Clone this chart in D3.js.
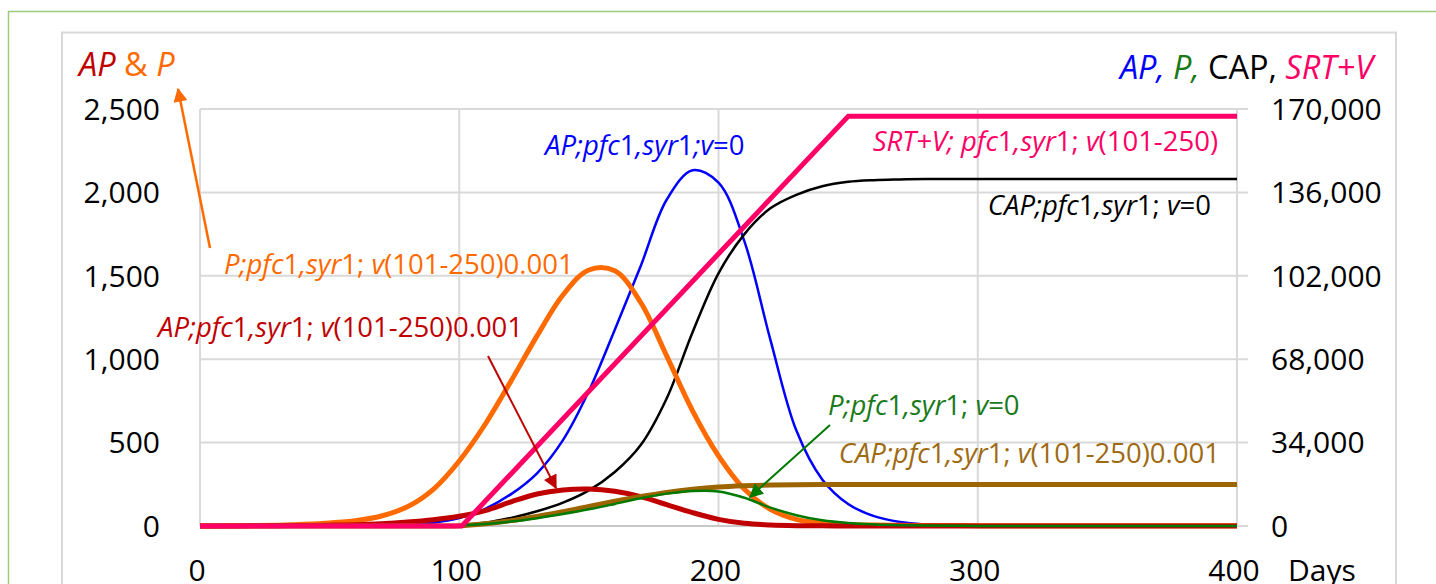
<!DOCTYPE html>
<html>
<head>
<meta charset="utf-8">
<script src="https://cdn.jsdelivr.net/npm/d3@7"></script>
<style>
  html, body { margin: 0; padding: 0; background: #fff; }
  svg { display: block; font-family: "Open Sans", "Noto Sans", sans-serif; }
</style>
</head>
<body>
<svg id="chart" width="1436" height="584"></svg>
<script>
// Simulation days (x axis)
const days = [0, 10, 20, 30, 40, 50, 60, 70, 80, 90,
              100, 110, 120, 130, 140, 150, 160, 170, 180, 190,
              200, 210, 220, 230, 240, 250, 260, 270, 280, 290,
              300, 310, 320, 330, 340, 350, 360, 370, 380, 390, 400];

// Left axis series (AP & P with vaccination 101-250, rate 0.001)
const pVacc = [0, 1, 2, 5, 10, 18, 32, 60, 115, 220,
               390, 610, 870, 1140, 1385, 1535, 1530, 1340, 1020, 690,
               420, 220, 100, 40, 18, 9, 6, 4, 3, 3,
               2, 2, 2, 2, 2, 2, 2, 2, 2, 2, 2];
const apVacc = [0, 0, 1, 2, 3, 5, 8, 14, 24, 38,
                58, 92, 145, 192, 216, 222, 208, 176, 128, 80,
                40, 16, 6, 2, 1, 0, 0, 0, 0, 0,
                0, 0, 0, 0, 0, 0, 0, 0, 0, 0, 0];

// Right axis series (no vaccination, plus cumulative with vaccination)
const apNoVacc = [0, 0, 0, 0, 10, 30, 80, 200, 500, 1300,
                  3200, 7000, 13000, 21500, 35000, 55000, 80000, 106000, 133000, 145000,
                  140000, 116000, 76000, 39000, 19000, 9000, 4000, 1600, 600, 200,
                  60, 20, 0, 0, 0, 0, 0, 0, 0, 0, 0];
const capNoVacc = [0, 0, 0, 0, 0, 0, 0, 0, 0, 100,
                   400, 1300, 3300, 6000, 9500, 14500, 22000, 33000, 52000, 79000,
                   103000, 119000, 129500, 135000, 138500, 140300, 141000, 141300, 141500, 141500,
                   141500, 141500, 141500, 141500, 141500, 141500, 141500, 141500, 141500, 141500, 141500];
const pNoVacc = [0, 0, 0, 0, 0, 0, 0, 0, 20, 80,
                 250, 800, 1800, 3200, 4900, 6800, 9000, 11300, 13200, 14300,
                 14100, 11500, 7500, 4400, 2300, 1200, 650, 350, 180, 100,
                 50, 30, 20, 10, 10, 10, 10, 10, 10, 10, 10];
const capVacc = [0, 0, 0, 0, 0, 0, 0, 0, 0, 0,
                 50, 900, 2200, 3900, 5800, 8000, 10100, 12000, 13700, 15000,
                 15900, 16400, 16700, 16850, 16900, 16900, 16900, 16900, 16900, 16900,
                 16900, 16900, 16900, 16900, 16900, 16900, 16900, 16900, 16900, 16900, 16900];

// SRT+V: flat, linear rise during vaccination window, flat again
const srtDays = [0, 101, 250, 400];
const srtValues = [0, 0, 167000, 167000];

// Axis ticks
const xTicks = [0, 100, 200, 300, 400];
const leftTicks = [0, 500, 1000, 1500, 2000, 2500];
const rightTicks = [0, 34000, 68000, 102000, 136000, 170000];

// Labels: "_" toggles italic
const labels = [
  { text: "_AP;pfc_1_,syr_1_;v_=0", color: "#0000FF", x: 545, y: 155, anchor: "start" },
  { text: "_SRT+V; pfc_1_,syr_1; _v_(101-250)", color: "#FF0066", x: 1218, y: 151, anchor: "end" },
  { text: "_CAP;pfc_1_,syr_1; _v_=0", color: "#000000", x: 1211, y: 215, anchor: "end" },
  { text: "_P;pfc_1_,syr_1; _v_(101-250)0.001", color: "#FF6A00", x: 224, y: 274, anchor: "start" },
  { text: "_AP;pfc_1_,syr_1; _v_(101-250)0.001", color: "#C00000", x: 158, y: 337, anchor: "start" },
  { text: "_P;pfc_1_,syr_1; _v_=0", color: "#1A7A1A", x: 828, y: 415, anchor: "start" },
  { text: "_CAP;pfc_1_,syr_1; _v_(101-250)0.001", color: "#9E6A12", x: 1220, y: 463, anchor: "end" }
];

const svg = d3.select("#chart");

// Frames
svg.append("rect").attr("x", 8.5).attr("y", 11.5).attr("width", 1460).attr("height", 600)
  .attr("fill", "none").attr("stroke", "#9CCB7E").attr("stroke-width", 1.5);
svg.append("rect").attr("x", 62).attr("y", 32.5).attr("width", 1334).attr("height", 600)
  .attr("fill", "#fff").attr("stroke", "#D9D9D9").attr("stroke-width", 2);

const x = d3.scaleLinear().domain([0, 400]).range([200, 1237]);
const yL = d3.scaleLinear().domain([0, 2500]).range([526, 109]);
const yR = d3.scaleLinear().domain([0, 170000]).range([526, 109]);

// Grid
const grid = svg.append("g").attr("stroke", "#D9D9D9").attr("stroke-width", 2);
leftTicks.forEach(v => grid.append("line")
  .attr("x1", x(0)).attr("x2", x(400) + 11).attr("y1", yL(v)).attr("y2", yL(v)));
xTicks.forEach(d => grid.append("line")
  .attr("x1", x(d)).attr("x2", x(d)).attr("y1", yL(2500)).attr("y2", yL(0)));
grid.append("line").attr("x1", x(0)).attr("x2", x(400)).attr("y1", yL(0)).attr("y2", yL(0))
  .attr("stroke", "#C8C8C8");

// Axes labels
const fmt = d3.format(",");
const axisFont = 30;
svg.append("g").selectAll("text").data(leftTicks).join("text")
  .attr("x", 160).attr("y", d => yL(d)).attr("dy", "0.36em")
  .attr("text-anchor", "end").attr("font-size", axisFont).attr("fill", "#000")
  .text(d => fmt(d));
svg.append("g").selectAll("text").data(rightTicks).join("text")
  .attr("x", 1271).attr("y", d => yR(d)).attr("dy", "0.36em")
  .attr("text-anchor", "start").attr("font-size", axisFont).attr("fill", "#000")
  .text(d => fmt(d));
svg.append("g").selectAll("text").data(xTicks).join("text")
  .attr("x", d => x(d) - 3).attr("y", 581)
  .attr("text-anchor", "middle").attr("font-size", axisFont).attr("fill", "#000")
  .text(d => d);
svg.append("text").attr("x", 1288).attr("y", 581).attr("font-size", axisFont)
  .attr("fill", "#000").text("Days");

// Axis titles
function richText(sel, parts) {
  parts.forEach(p => sel.append("tspan").attr("fill", p[1])
    .attr("font-style", p[2] ? "italic" : "normal").text(p[0]));
}
const titleFont = 32.5;
const tL = svg.append("text").attr("x", 79).attr("y", 76).attr("font-size", titleFont);
richText(tL, [["AP", "#C00000", true], [" & ", "#FF6A00", false], ["P", "#FF6A00", true]]);
const tR = svg.append("text").attr("x", 1373).attr("y", 79).attr("font-size", titleFont)
  .attr("text-anchor", "end");
richText(tR, [["AP,", "#0000FF", true], [" P,", "#1A7A1A", true], [" CAP,", "#000", false],
              [" SRT+V", "#FF0066", true]]);

// Lines
const curve = d3.curveCatmullRom.alpha(0.5);
const lineL = d3.line().x((d, i) => x(days[i])).y(d => yL(Math.max(0, d))).curve(curve);
const lineR = d3.line().x((d, i) => x(days[i])).y(d => yR(Math.max(0, d))).curve(curve);
const plot = svg.append("g").attr("fill", "none").attr("stroke-linejoin", "round");

plot.append("path").attr("d", lineR(apNoVacc)).attr("stroke", "#0000FF").attr("stroke-width", 2.5);
plot.append("path").attr("d", lineR(capNoVacc)).attr("stroke", "#000").attr("stroke-width", 2.5);
plot.append("path").attr("d", lineL(pVacc)).attr("stroke", "#FF6A00").attr("stroke-width", 5);
plot.append("path").attr("d", lineL(apVacc)).attr("stroke", "#C00000").attr("stroke-width", 5);
plot.append("path").attr("d", lineR(capVacc)).attr("stroke", "#9C6500").attr("stroke-width", 5);
plot.append("path").attr("d", lineR(pNoVacc)).attr("stroke", "#007A00").attr("stroke-width", 2.5);
const srtLine = d3.line().x((d, i) => x(srtDays[i])).y(d => yR(d));
plot.append("path").attr("d", srtLine(srtValues)).attr("stroke", "#FF0066").attr("stroke-width", 5);

// Annotation labels
labels.forEach(l => {
  const t = svg.append("text").attr("x", l.x).attr("y", l.y).attr("font-size", 27.5)
    .attr("fill", l.color).attr("text-anchor", l.anchor);
  let italic = false;
  l.text.split("_").forEach((s, i) => {
    if (i > 0) italic = !italic;
    if (s.length) t.append("tspan").attr("font-style", italic ? "italic" : "normal").text(s);
  });
});

// Arrows
const defs = svg.append("defs");
function arrow(id, color) {
  defs.append("marker").attr("id", id).attr("viewBox", "0 0 10 10")
    .attr("refX", 9).attr("refY", 5).attr("markerUnits", "userSpaceOnUse")
    .attr("markerWidth", 16).attr("markerHeight", 14).attr("orient", "auto")
    .append("path").attr("d", "M0,0L10,5L0,10Z").attr("fill", color);
}
arrow("ah-orange", "#FF6A00");
arrow("ah-red", "#C00000");
arrow("ah-green", "#007A00");
function pointer(x1, y1, x2, y2, color, id, w) {
  svg.append("line").attr("x1", x1).attr("y1", y1).attr("x2", x2).attr("y2", y2)
    .attr("stroke", color).attr("stroke-width", w).attr("marker-end", `url(#${id})`);
}
pointer(210, 248, 178, 89, "#FF6A00", "ah-orange", 2.5);
pointer(488, 356, 556, 488, "#C00000", "ah-red", 2);
pointer(830, 425, 750, 497, "#007A00", "ah-green", 2);
</script>
</body>
</html>
